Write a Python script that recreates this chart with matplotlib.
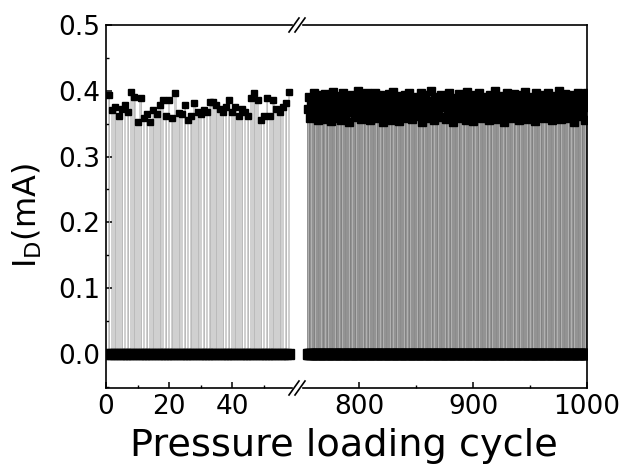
import matplotlib
matplotlib.use('Agg')
import matplotlib.pyplot as plt
import numpy as np
from matplotlib.lines import Line2D
from matplotlib.patches import Rectangle

plt.rcParams['font.family'] = ['DejaVu Sans']
plt.rcParams['mathtext.fontset'] = 'dejavusans'

# Early cycles (1-58): on-state peak current (mA)
cycles_left = np.arange(1, 59)
peak_left = [0.394, 0.371, 0.376, 0.361, 0.372, 0.379, 0.368, 0.398, 0.391, 0.352,
             0.389, 0.358, 0.364, 0.352, 0.371, 0.364, 0.379, 0.386, 0.362, 0.386,
             0.359, 0.397, 0.366, 0.364, 0.379, 0.356, 0.362, 0.382, 0.367, 0.364,
             0.371, 0.367, 0.383, 0.383, 0.379, 0.372, 0.368, 0.376, 0.386, 0.368,
             0.376, 0.361, 0.372, 0.368, 0.361, 0.389, 0.397, 0.386, 0.356, 0.361,
             0.389, 0.361, 0.386, 0.372, 0.368, 0.376, 0.382, 0.398]

# Late cycles (755-1000): on-state peak current (mA)
cycles_right = np.arange(755, 1001)
peak_right = [
    0.372, 0.391, 0.358, 0.384, 0.366, 0.397, 0.361, 0.379, 0.388, 0.355, 0.374, 0.393,
    0.368, 0.382, 0.357, 0.395, 0.376, 0.363, 0.389, 0.371, 0.354, 0.386, 0.398, 0.365,
    0.379, 0.359, 0.392, 0.373, 0.385, 0.356, 0.369, 0.396, 0.381, 0.362, 0.377, 0.390,
    0.353, 0.383, 0.367, 0.394, 0.375, 0.360, 0.387, 0.370, 0.399, 0.364, 0.380, 0.357,
    0.391, 0.374, 0.386, 0.361, 0.396, 0.368, 0.378, 0.355, 0.389, 0.372, 0.363, 0.397,
    0.382, 0.358, 0.376, 0.393, 0.366, 0.385, 0.352, 0.371, 0.390, 0.379, 0.360, 0.395,
    0.369, 0.384, 0.356, 0.398, 0.373, 0.362, 0.388, 0.377, 0.354, 0.392, 0.367, 0.381,
    0.359, 0.394, 0.375, 0.386, 0.363, 0.397, 0.370, 0.357, 0.383, 0.391, 0.365, 0.378,
    0.388, 0.361, 0.374, 0.396, 0.353, 0.380, 0.368, 0.393, 0.376, 0.358, 0.385, 0.372,
    0.399, 0.366, 0.382, 0.355, 0.390, 0.371, 0.362, 0.387, 0.378, 0.394, 0.360, 0.375,
    0.384, 0.357, 0.392, 0.369, 0.397, 0.364, 0.379, 0.352, 0.389, 0.373, 0.386, 0.361,
    0.376, 0.395, 0.358, 0.381, 0.367, 0.390, 0.374, 0.356, 0.398, 0.383, 0.363, 0.388,
    0.370, 0.354, 0.385, 0.393, 0.377, 0.362, 0.396, 0.368, 0.380, 0.359, 0.391, 0.373,
    0.365, 0.387, 0.378, 0.355, 0.394, 0.371, 0.383, 0.360, 0.399, 0.375, 0.357, 0.389,
    0.381, 0.366, 0.392, 0.374, 0.353, 0.386, 0.369, 0.397, 0.362, 0.379, 0.390, 0.358,
    0.372, 0.395, 0.384, 0.361, 0.376, 0.356, 0.388, 0.367, 0.393, 0.380, 0.364, 0.398,
    0.357, 0.382, 0.370, 0.391, 0.363, 0.385, 0.375, 0.354, 0.396, 0.368, 0.387, 0.377,
    0.360, 0.394, 0.373, 0.358, 0.389, 0.379, 0.365, 0.397, 0.371, 0.384, 0.355, 0.392,
    0.378, 0.362, 0.386, 0.369, 0.399, 0.374, 0.357, 0.390, 0.381, 0.366, 0.395, 0.372,
    0.386, 0.359, 0.393, 0.376, 0.364, 0.388, 0.353, 0.382, 0.370, 0.397, 0.361, 0.379,
    0.391, 0.368, 0.384, 0.356, 0.375, 0.396]

# off-state current (mA)
off_current = 0.0

fig = plt.figure(figsize=(6.28, 4.70), dpi=100)
bottom, top = 1 - 388 / 470, 1 - 25 / 470
x0, xb, x1 = 106 / 628, 297 / 628, 587 / 628
ax1 = fig.add_axes([x0, bottom, xb - x0, top - bottom])
ax2 = fig.add_axes([xb, bottom, x1 - xb, top - bottom], sharey=ax1)

# left: pulse traces drawn as light gray strokes
ax1.bar(cycles_left, peak_left, width=0.85, color='#d0d0d0', linewidth=0)
ax1.vlines(cycles_left[::2], 0, peak_left[::2], color='#b8b8b8', linewidth=0.6)
ax1.plot(cycles_left, peak_left, 's', color='black', ms=5, mec='black')
ax1.plot(cycles_left, np.full(len(cycles_left), off_current), 's', color='black', ms=6.5)

# right: denser, darker traces
ax2.bar(cycles_right, peak_right, width=1.25, color='#939393', linewidth=0)
ax2.vlines(cycles_right[::3], 0, peak_right[::3], color='#b2b2b2', linewidth=0.7)
ax2.vlines(cycles_right[1::4], 0, peak_right[1::4], color='#7c7c7c', linewidth=0.5)
ax2.plot(cycles_right, peak_right, 's', color='black', ms=5.5, mec='black')
ax2.plot(cycles_right, np.full(len(cycles_right), off_current), 's', color='black', ms=6.5)

ax1.set_xlim(0, 60.5)
ax2.set_xlim(745.5, 1000)
ax1.set_ylim(-0.052, 0.5)

ax1.spines['right'].set_visible(False)
ax2.spines['left'].set_visible(False)
for ax in (ax1, ax2):
    for s in ax.spines.values():
        s.set_linewidth(1.2)

ax1.set_xticks([0, 20, 40])
ax1.set_xticks([10, 30, 50], minor=True)
ax2.set_xticks([800, 900, 1000])
ax2.set_xticks([850, 950], minor=True)
ax1.set_yticks([0.0, 0.1, 0.2, 0.3, 0.4, 0.5])
ax1.set_yticks(np.arange(-0.05, 0.5, 0.1), minor=True)
ax1.yaxis.set_major_formatter(plt.FormatStrFormatter('%.1f'))

for ax in (ax1, ax2):
    ax.tick_params(which='major', direction='in', length=4.5, width=1.1, labelsize=19, pad=4)
    ax.tick_params(which='minor', direction='in', length=2.5, width=1.0)
ax2.tick_params(axis='y', which='both', left=False, labelleft=False)

fig.text(27 / 628, 1 - 215 / 470, r'I$_\mathregular{D}$(mA)', fontsize=23,
         rotation=90, ha='center', va='center')
fig.text(344 / 628, 1 - 446 / 470, 'Pressure loading cycle', fontsize=27.5,
         ha='center', va='center')

# break marks on top and bottom spines
for yb in (top, bottom):
    fig.add_artist(Rectangle((xb - 4 / 628, yb - 2 / 470), 8 / 628, 4 / 470,
                             transform=fig.transFigure, color='white', zorder=10))
    for dx in (-3, 3):
        cx = xb + dx / 628
        fig.add_artist(Line2D([cx - 5 / 628, cx + 5 / 628], [yb - 7 / 470, yb + 7 / 470],
                              transform=fig.transFigure, color='black', lw=1.2, zorder=11))

fig.savefig('out.png', dpi=100)
